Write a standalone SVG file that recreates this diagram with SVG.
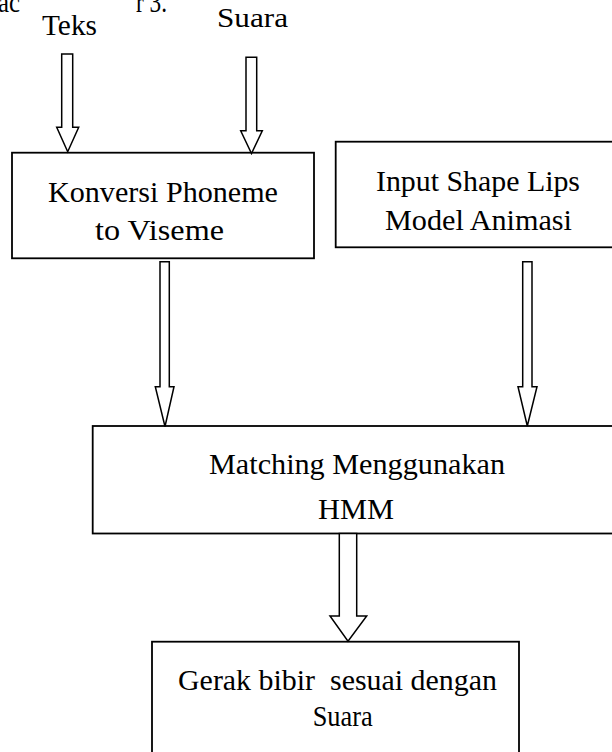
<svg xmlns="http://www.w3.org/2000/svg" width="612" height="752" viewBox="0 0 612 752">
<style>
  .box { fill: #ffffff; stroke: #000000; stroke-width: 1.8; }
  .arr { fill: #ffffff; stroke: #000000; stroke-width: 1.5; stroke-linejoin: miter; }
  text { font-family: "Liberation Serif", "Times New Roman", serif; fill: #000000; }
  .t { font-size: 28.5px; }
</style>
<rect x="0" y="0" width="612" height="752" fill="#ffffff"/>
<g id="caption">
  <text class="t" x="-2" y="12" textLength="22" lengthAdjust="spacingAndGlyphs">ac</text>
  <text class="t" x="136" y="12" textLength="31" lengthAdjust="spacingAndGlyphs">r 3.</text>
</g>
<g id="input-teks">
  <text x="42" y="35" font-size="29" textLength="55" lengthAdjust="spacingAndGlyphs">Teks</text>
</g>
<g id="input-suara">
  <text x="217" y="27" font-size="27" textLength="71" lengthAdjust="spacingAndGlyphs">Suara</text>
</g>
<g id="konversi">
  <rect class="box" x="12" y="152.7" width="302" height="105.6"/>
  <text class="t" x="48" y="201.5" textLength="230" lengthAdjust="spacingAndGlyphs">Konversi Phoneme</text>
  <text class="t" x="95" y="240" textLength="129" lengthAdjust="spacingAndGlyphs">to Viseme</text>
</g>
<g id="input-shape">
  <rect class="box" x="335.7" y="141.7" width="290" height="105.6"/>
  <text class="t" x="376" y="190.7" textLength="204" lengthAdjust="spacingAndGlyphs">Input Shape Lips</text>
  <text class="t" x="385" y="230" textLength="187" lengthAdjust="spacingAndGlyphs">Model Animasi</text>
</g>
<g id="matching">
  <rect class="box" x="92.7" y="426" width="540" height="107.5"/>
  <text class="t" x="209" y="474" textLength="296" lengthAdjust="spacingAndGlyphs">Matching Menggunakan</text>
  <text class="t" x="318" y="518.7" textLength="76" lengthAdjust="spacingAndGlyphs">HMM</text>
</g>
<g id="gerak">
  <rect class="box" x="152" y="641.7" width="367" height="130"/>
  <text class="t" x="178" y="690" textLength="319" lengthAdjust="spacingAndGlyphs" xml:space="preserve" style="white-space:pre">Gerak bibir  sesuai dengan</text>
  <text class="t" x="312.7" y="726" textLength="60" lengthAdjust="spacingAndGlyphs">Suara</text>
</g>
<g id="connectors">
  <path class="arr" d="M61.7,54 H72.7 V127.3 H78.7 L67.7,151.7 L56.7,127.3 H61.7 Z"/>
  <path class="arr" d="M246,57.3 H256.7 V130.7 H262.3 L251.5,153.5 L240.7,130.7 H246 Z"/>
  <path class="arr" d="M160,261.7 H169.3 V386.7 H174 L165,426.5 L155.3,386.7 H160 Z"/>
  <path class="arr" d="M522.7,261.7 H532 V386.7 H537 L527.3,426 L518,386.7 H522.7 Z"/>
  <path class="arr" d="M339.3,533.5 H356.7 V616 H366.7 L348,641.3 L330,616 H339.3 Z"/>
</g>
</svg>
